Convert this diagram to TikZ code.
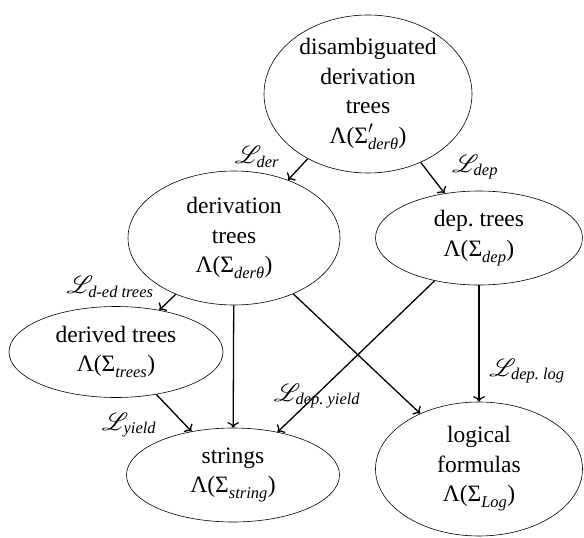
\documentclass[tikz,border=0pt]{standalone}
\usepackage{amsmath}
\usepackage{mathrsfs}
\usepackage{fontspec}
\setmainfont{Liberation Serif}
\usetikzlibrary{shapes.geometric,arrows.meta}
\newcommand{\Lsub}[1]{$\mathscr{L}_{\text{\itshape #1}}$}
\newcommand{\LamSig}[1]{$\text{Λ(Σ}_{\text{\itshape #1}}\text{)}$}
\begin{document}
\begin{tikzpicture}[x=1pt,y=-1pt,
  ell/.style={ellipse, draw, line width=0.6pt, inner sep=0pt, align=center,
    font=\fontsize{23.5}{29.5}\selectfont},
  arr/.style={-{To[scale=1.25]}, line width=1.3pt},
  lab/.style={inner sep=0pt, font=\fontsize{23.5}{28.5}\selectfont}]
\useasboundingbox (0,0) rectangle (584,538);
\node[ell, minimum width=208pt, minimum height=158pt] (dis) at (368,94)
  {disambiguated\\derivation\\trees\\$\text{Λ(Σ}'_{\text{\itshape derθ}}\text{)}$};
\node[ell, minimum width=212pt, minimum height=134pt] (der) at (234,238)
  {derivation\\trees\\\LamSig{derθ}};
\node[ell, minimum width=207pt, minimum height=94pt] (dep) at (479,238)
  {dep.\ trees\\\LamSig{dep}};
\node[ell, minimum width=214pt, minimum height=91pt] (dtr) at (116,352)
  {derived trees\\\LamSig{trees}};
\node[ell, minimum width=213pt, minimum height=94pt] (str) at (233,475)
  {strings\\\LamSig{string}};
\node[ell, minimum width=207pt, minimum height=134pt] (log) at (479,469)
  {logical\\formulas\\\LamSig{Log}};

\draw[arr] (dis) -- (der);
\draw[arr] (dis) -- (dep);
\draw[arr] (der) -- (dtr);
\draw[arr] (der) -- (str);
\draw[arr] (der) -- (log);
\draw[arr] (dep) -- (str);
\draw[arr] (dep) -- (log);
\draw[arr] (dtr) -- (str);

\node[lab] (l1) at (257,157) {\Lsub{der}};
\node[lab] (l2) at (475,167) {\Lsub{dep}};
\node[lab] (l3) at (110,287) {\Lsub{d-ed trees}};
\node[lab] (l4) at (129,425) {\Lsub{yield}};
\node[lab] (l5) at (317,396) {\Lsub{dep.\ yield}};
\node[lab] (l6) at (527,371) {\Lsub{dep.\ log}};
\end{tikzpicture}
\end{document}
